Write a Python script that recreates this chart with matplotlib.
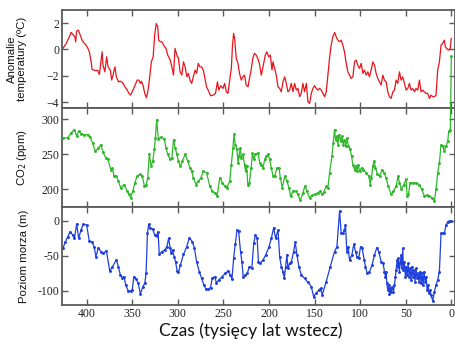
import numpy as np
import matplotlib
matplotlib.use("Agg")
import matplotlib.pyplot as plt

# ---- data (time in kyr before present) ----
temp_t = [426, 422.5, 419, 417, 415, 413, 412, 411, 409, 407,
          405, 402.5, 400.7, 399, 397, 395, 394, 391.7, 390, 388,
          386, 384.5, 383, 382, 380, 378, 376.5, 374, 372.5, 371,
          369, 367.4, 365, 362.7, 360, 358, 355.4, 353.6, 351.8, 350,
          348, 346, 344.6, 342.8, 341, 340, 338.4, 336.2, 334.4, 332.6,
          331, 329, 327, 325.4, 323.6, 322, 321, 319, 317.4, 315.6,
          313, 311, 308.3, 306.5, 304.7, 303, 301, 299.3, 297.5, 295.6,
          293.8, 292, 290, 288.4, 286.6, 284.8, 283, 281, 279.4, 277.5,
          275.8, 274, 272, 270.3, 268.5, 266.7, 264, 261.2, 258.7, 256.5,
          255, 252.9, 250.4, 248.6, 246.7, 245, 243, 241.3, 240, 238.8,
          237.7, 235.9, 234, 232.3, 230.4, 228.6, 226.8, 225, 223, 221.4,
          219.6, 217.8, 216, 214, 212.3, 210.5,
          208.4, 206.6, 204, 202.2, 200.4, 198.5, 196.7, 195.6, 193.8, 192,
          190.1, 188.3, 186.5, 184.7, 182.8, 181, 179.2, 177.4, 175.5, 173.7,
          171.9, 170, 168.2, 166.4, 164.6, 162.8, 161, 159, 157.3, 155.5,
          153.6, 151.8, 150, 148.2, 146.4, 144.5, 142.7, 140.9, 139, 137.2,
          135.4, 133.6, 131.8, 130, 128, 126.3, 124.5, 122.6, 120.8, 119,
          117.2, 115.3, 113.5, 111.7, 109.9, 108, 106.2, 104.4, 102.6, 100.7,
          98.9, 97, 95.3, 93.4, 91.6, 89.8, 88, 86.1, 84.3, 82.5,
          80.7, 78.8, 77, 75.2, 73.4, 71.5, 69.7, 67.9, 66, 64.2,
          62.4, 60.6, 58.8, 56.9, 55.1, 53.3, 51.5, 49.6, 47.8, 46,
          44.2, 42.3, 40.5, 38.7, 36.9, 35, 33.2, 31.4, 29.6, 27.7,
          25.9, 24, 22.3, 20.4, 18.6, 16.8, 15, 13.1, 11.3, 9.5,
          7.7, 6.6, 5.1, 3, 1.2, 0.1]
temp_v = [0.08, 0.45, 0.96, 1.3, 1.14, 0.96, 0.58, 1.39, 1.47, 1.09,
          0.71, 0.46, 0.33, 0.15, -0.18, -0.94, -1.52, -1.57, -1.62, -1.57,
          -1.9, -1.06, -0.18, -1.19, -1.7, -0.56, -1.32, -1.57, -2.33, -1.95,
          -1.32, -2.08, -2.46, -2.41, -2.58, -2.84, -3.09, -3.34, -3.47, -3.22,
          -2.91, -2.58, -2.33, -2.33, -2.58, -2.41, -2.66, -3.34, -3.67, -3.09,
          -2.2, -0.94, -0.56, 1.09, 1.97, 1.72, 0.71, 0.58, 0.58, 0.33,
          0.08, -0.43, -0.81, -1.32, -1.95, 0.08, -0.43, -0.68, -1.7, -1.95,
          -0.94, -1.32, -2.08, -1.82, -2.33, -2.58, -2.08, -1.57, -1.82, -1.06,
          -1.32, -1.32, -1.57, -2.2, -2.84, -3.09, -3.52, -3.47, -3.34, -2.46,
          -3.09, -2.76, -2.96, -2.58, -3.22, -3.34, -2.33, -1.44, 0.33, 1.22,
          0.84, -0.68, -1.06, -1.82, -2.33, -2.08, -1.95, -2.71, -2.84, -2.2,
          -1.57, -0.68, -0.3, -0.43, -0.68, -1.06,
          -1.95, -1.32, -0.43, -0.18, -0.56, -0.43, -1.57, -0.94, -1.44, -1.95,
          -2.84, -2.96, -3.22, -2.46, -2.08, -2.58, -3.22, -3.09, -2.58, -3.22,
          -2.58, -3.09, -2.96, -3.59, -3.34, -2.58, -3.22, -2.58, -3.97, -4.1,
          -3.34, -2.96, -2.76, -2.96, -3.09, -2.96, -3.09, -3.34, -3.59, -3.22,
          -1.95, -0.68, 0.33, 0.96, 1.29, 0.96, 0.71, 0.58, 0.71, 0.33,
          -0.18, -1.06, -1.7, -1.95, -2.2, -2.08, -0.94, -0.81, -1.19, -1.44,
          -1.06, -1.82, -1.57, -1.95, -1.7, -2.08, -1.57, -0.94, -1.19, -1.82,
          -2.2, -2.46, -2.71, -1.95, -2.33, -2.46, -3.22, -3.59, -3.72, -3.22,
          -3.09, -2.33, -2.58, -1.7, -2.33, -2.08, -2.58, -3.09, -2.96, -2.58,
          -3.09, -2.96, -3.22, -2.96, -3.09, -2.33, -3.22, -3.09, -3.22, -3.34,
          -3.34, -3.72, -3.47, -3.59, -3.59, -3.47, -1.57, -0.94, 0.33, 0.46,
          0.71, 0.2, 0.08, -0.05, 0.08, 0.84]

co2_t = [426, 420.7, 417, 413.4, 410.9, 408.7, 406, 402.5, 399, 396.4,
         393.5, 390.6, 387, 384.4, 382, 379, 376.5, 373.6, 371.7, 370,
         367.4, 365.2, 362.7, 359, 355.4, 353.6, 351.8, 349.3, 347.1, 344.6,
         342, 339, 336.6, 334.8, 333, 331.2, 329.3, 327.5, 325.7, 324.6,
         323.2, 321.4, 318.5, 314.9, 313, 311, 308.3, 306.5, 304.7, 302.9,
         301, 299.3, 297.1, 295, 292, 289.1, 286.6, 284.8, 283, 280,
         277.5, 274.6, 272, 268.5, 264.9, 262.3, 259.4, 256.9, 254, 251,
         248.6, 246, 243.1, 241.3, 239.5, 238.4, 237, 235.1, 234, 232.9,
         231.5, 230.4, 228.6, 226.8, 225.7, 224.6, 223.2, 221.4, 219.6, 218.1,
         216.7, 214.9, 212.3, 210.1,
         208.4, 206.6, 204.7, 202.9, 201, 199.3, 197.4, 195.6, 193.8, 191.2,
         189, 187.6, 185.4, 182.8, 180.3, 178.1, 176.3, 173.7, 170.8, 168.2,
         165.7, 162.8, 160.6, 158.4, 155.5, 152.9, 150, 146.4, 143.8, 142,
         139.8, 137.2, 135.4, 133.6, 131, 129.6, 128.1, 127, 125.5, 124.5,
         123, 121.5, 120.1, 118.6, 117.2, 115.7, 114.6, 112.8, 111, 109.5,
         108, 106.2, 105.1, 103.6, 102.2, 100.7, 98.5, 96.4, 93.4, 90.5,
         89, 87.6, 86.1, 84.7, 83.2, 81, 78.8, 75.9, 73.7, 71.5,
         69.3, 66, 63.5, 60.6, 58.4, 56.9, 54.7, 52.2, 49.6, 48.5,
         47, 45.3, 42.3, 38.7, 35, 32.5, 29.6, 27, 24.1, 21.2,
         18.6, 16.8, 15, 13.1, 11.3, 9.5, 7.7, 5.8, 4, 2.9,
         1.1, 0]
co2_v = [273.5, 273.5, 280.6, 285.3, 275.8, 283, 279.6, 278, 278, 274.4,
         266.4, 254.5, 259.2, 264, 253, 245, 242.7, 228.4, 229.9, 219,
         219, 211.8, 202.4, 207, 197.6, 192.9, 188.2, 197.6, 209.5, 219,
         221.3, 219, 204.7, 205.7, 216.6, 249.8, 233.2, 240.3, 256.9, 273.5,
         299.5, 272.5, 274.4, 272.5, 259.2, 249.8, 242.7, 245, 271, 259.2,
         249.8, 240.3, 233.2, 240.3, 249.8, 240.3, 230.8, 226.1, 216.6, 207,
         211.8, 216.6, 226.1, 223.7, 204.7, 197.6, 195.3, 190.5, 216.6, 209.5,
         204.7, 202.4, 211.8, 235.5, 259.2, 279.1, 264, 256.9, 238, 247.4,
         259.2, 245, 249.8, 235.5, 226.1, 233.2, 207, 209.5, 230.8, 252.1,
         242.7, 249.8, 252.1, 238,
         235.5, 230.8, 242.7, 247.4, 249.8, 242.7, 230.8, 219, 219, 230.8,
         230.8, 216.6, 202.4, 219, 211.8, 202.4, 190.5, 197.6, 197.6, 192.9,
         184.4, 195.3, 204.7, 197.6, 188.2, 191.5, 192.9, 195.3, 197.6, 192.9,
         196.2, 204.7, 202.4, 223.7, 247.4, 266.4, 285.3, 271, 275.8, 264,
         278.2, 268.7, 275.8, 264, 271, 261.6, 273.5, 261.6, 256.9, 247.4,
         235.5, 228.4, 233.2, 226.1, 235.5, 226.1, 230.8, 228.4, 223.7, 219,
         207, 216.6, 233.2, 240.3, 230.8, 221.3, 219, 228.4, 223.7, 216.6,
         204.7, 192.9, 197.6, 204.7, 219, 209.5, 200, 207, 214.3, 190.5,
         192.9, 209.5, 209.5, 209.5, 207, 200, 190.5, 191.5, 190.5, 188.2,
         183.4, 200, 223.7, 238, 264, 261.6, 254.5, 261.6, 268.7, 282.9,
         285.3, 390]

sea_t = [426, 423.2, 420.7, 418.1, 415.2, 413.4, 410.9, 408.7, 406.2, 403.6,
         400, 397.1, 394.2, 391.7, 389.9, 387, 384.4, 382, 378.3, 374.6,
         371.7, 367.4, 365.2, 363, 360.9, 359, 357.2, 354.3, 351.8, 350,
         348.2, 345.7, 343.5, 341, 338.4, 336.2, 334.8, 333.3, 331.9, 330.1,
         327.5, 325.4, 323.2, 321.7, 320.3, 317.4, 314.5, 312, 310.1, 308.3,
         307.2, 305.8, 304, 302.5, 300.7, 299.3, 297.1, 293.8, 290.2, 287.3,
         284.1, 281.9, 279.4, 276.4, 273.9, 271.4, 269.2, 266.7, 264.1, 262.3,
         259.4, 257.6, 255.1, 251.4, 247.8, 245, 242.4, 240.6, 238.8, 237,
         235.1, 233.3, 231.2, 229.7, 228.3, 226.1, 223.9, 221.4, 218.8, 216.7,
         214.9, 213, 211.6, 209.8,
         206.6, 203.6, 200, 197.4, 194.9, 192.7, 190.1, 188.3, 186.5, 184.7,
         183.2, 181.8, 180.3, 179.2, 177.4, 175.5, 173, 171.2, 169.3, 167.2,
         164.6, 161, 157.3, 153.6, 151.1, 148.2, 145.3, 143.4, 141.6, 137.2,
         132.8, 128.1, 125.5, 122.6, 120.8, 119, 117.2, 116.1, 114.6, 113.1,
         111.7, 109.1, 107, 105.1, 103.6, 101.5, 99.6, 97.8, 95.6, 94.2,
         92.3, 89.8, 86.9, 84.3, 81.8, 79.6, 77, 74.8, 73.4, 72.3,
         71.5, 70.8, 69.7, 68.6, 67.9, 66.8, 66, 64.9, 63.5, 62.4,
         61.3, 60.6, 59.5, 58.8, 58, 56.9, 56.2, 55.1, 54.4, 53.3,
         52.6, 51.5, 50.4, 49.6, 48.5, 47.4, 46.4, 45.3, 44.2, 43.1,
         42, 40.9, 39.8, 38.7, 37.6, 36.5, 35.4, 34.3, 33.2, 32.1,
         31, 29.9, 28.8, 27.7, 26.6, 25.5, 24.5, 23.4, 22.3, 20.4,
         18.6, 16.8, 15, 13.1, 11.3, 9.5, 7.7, 5.8, 4, 1.5,
         0]
sea_v = [-39.3, -29.9, -22.7, -15.6, -20.4, -25.1, -4.7, -25.1, -13.3, -5.2,
         -6.2, -28.9, -29.9, -37, -51.2, -38.4, -44, -46.4, -43.1, -71.6,
         -65.4, -55.9, -65.4, -77.3, -81, -79.6, -91.5, -100, -100, -98.6,
         -79.6, -82.9, -89.1, -104.3, -93.8, -89.1, -74.9, -18, -5.2, -10.9,
         -11.8, -20.4, -21.3, -15.6, -47.9, -44, -41.7, -37, -25.1, -39.3,
         -46.4, -41.7, -51.2, -58.3, -71.6, -73.5, -63, -47.9, -37, -24.2,
         -29.9, -38.4, -58.3, -72.5, -82, -91.5, -97.2, -97.2, -95.3, -82,
         -79.6, -89.1, -84.4, -79.6, -74.9, -71.6, -77.3, -82.9, -53.6, -33.6,
         -13.3, -14.7, -44, -58.3, -79.6, -77.3, -74.9, -65.4, -66.8, -32.2,
         -20.4, -25.1, -58.3, -60.7,
         -55.9, -48.8, -37, -25.1, -10, -25.1, -13.3, -51.2, -65.4, -72.5,
         -82, -65.4, -48.8, -67.8, -60.7, -59.2, -44, -30.8, -48.8, -65.4,
         -77.3, -82, -87.7, -93.8, -108, -103.3, -98.6, -96.2, -105.7, -86.7,
         -65.4, -44, -37, 13.7, -18, -18, -13.3, -6.2, -44, -37,
         -55.9, -48.8, -33.6, -44, -51.2, -52.6, -37, -39.3, -55.9, -65.4,
         -74.9, -72.5, -63, -48.8, -38.4, -44, -58.3, -60.7, -72.5, -79.6,
         -72.5, -89.1, -98.6, -91.5, -104.7, -96.2, -101.9, -93.8, -100.9, -91.5,
         -79.6, -70.1, -55.9, -65.4, -53.6, -72.5, -60.7, -48.8, -67.8, -39.3,
         -70.1, -58.3, -79.6, -65.4, -77.3, -60.7, -79.6, -67.8, -84.4, -65.4,
         -79.6, -70.1, -86.7, -67.8, -82, -74.9, -86.7, -72.5, -89.1, -74.9,
         -91.5, -72.5, -86.7, -79.6, -98.6, -91.5, -103.3, -98.6, -105.7, -114.2,
         -100.9, -91.5, -84.4, -72.5, -18, -18, -18, -6.2, -1.4, 0,
         0]

x_ticks = [400, 350, 300, 250, 200, 150, 100, 50, 0]
temp_ticks = [-4, -2, 0, 2]
co2_ticks = [200, 250, 300]
sea_ticks = [-100, -50, 0]

# ---- figure ----
fig = plt.figure(figsize=(4.56, 3.5), dpi=100)
left, width = 62 / 456, 393 / 456
ax1 = fig.add_axes([left, 1 - 108 / 350, width, 98 / 350])
ax2 = fig.add_axes([left, 1 - 207 / 350, width, 99 / 350])
ax3 = fig.add_axes([left, 1 - 305 / 350, width, 98 / 350])

ax1.plot(temp_t, temp_v, color='#e8141c', lw=0.9)
ax2.plot(co2_t, co2_v, color='#2fb82a', lw=0.9, marker='.', ms=2.2,
         clip_on=False, zorder=5)
ax3.plot(sea_t, sea_v, color='#2040dd', lw=0.9, marker='.', ms=2.2)

ax1.set_ylim(-4.45, 3.0)
ax2.set_ylim(175, 316)
ax3.set_ylim(-120, 19.5)

tick_font = {'family': 'Liberation Serif', 'size': 8.5}
spine_col = '#5a5a5a'
for ax in (ax1, ax2, ax3):
    ax.set_xlim(427, -4)
    ax.set_xticks(x_ticks)
    for s in ax.spines.values():
        s.set_color(spine_col)
        s.set_linewidth(1.3)
    ax.tick_params(direction='in', top=True, right=True, length=4,
                   width=1, color=spine_col, labelcolor='#222222', pad=2)
    ax.tick_params(axis='x', labelbottom=False)

ax1.set_yticks(temp_ticks)
ax1.set_yticklabels(['\u22124', '\u22122', '0', '2'], fontdict=tick_font)
ax2.set_yticks(co2_ticks)
ax2.set_yticklabels([str(v) for v in co2_ticks], fontdict=tick_font)
ax3.set_yticks(sea_ticks)
ax3.set_yticklabels([str(v) for v in sea_ticks], fontdict=tick_font)
ax3.tick_params(axis='x', labelbottom=True)
ax3.set_xticklabels([str(v) for v in x_ticks], fontdict=tick_font)

lab_font = {'family': 'Liberation Sans', 'size': 8.2, 'color': '#111111'}
ax1.set_ylabel('Anomalie\ntemperatury (\u00baC)', fontdict=lab_font,
               linespacing=1.05)
ax1.yaxis.set_label_coords(-0.088, 0.5)
ax2.set_ylabel('CO$_2$ (ppm)', fontdict=lab_font)
ax2.yaxis.set_label_coords(-0.085, 0.5)
ax3.set_ylabel('Poziom morza (m)', fontdict=lab_font)
ax3.yaxis.set_label_coords(-0.085, 0.5)

fig.text(0.55, 1 - 331 / 350, 'Czas (tysięcy lat wstecz)', family='Lato',
         size=12.5, ha='center', va='center', color='#111111')

fig.savefig('out.png', dpi=100)
